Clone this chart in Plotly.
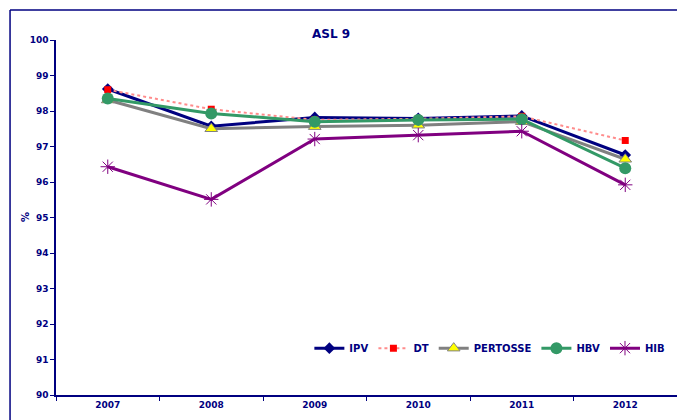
import plotly.graph_objects as go

# Data
years = ["2007", "2008", "2009", "2010", "2011", "2012"]
ipv = [98.62, 97.57, 97.82, 97.79, 97.86, 96.76]
dt = [98.60, 98.05, 97.75, 97.78, 97.85, 97.17]
pertosse = [98.31, 97.50, 97.56, 97.60, 97.70, 96.64]
hbv = [98.35, 97.93, 97.70, 97.75, 97.77, 96.39]
hib = [96.43, 95.51, 97.21, 97.32, 97.43, 95.92]

navy = "#000080"
font_family = "Verdana, DejaVu Sans, sans-serif"

fig = go.Figure()

fig.add_trace(go.Scatter(
    x=years, y=ipv, name="IPV", mode="lines+markers",
    line=dict(color=navy, width=3),
    marker=dict(symbol="diamond", size=9, color=navy)
))
fig.add_trace(go.Scatter(
    x=years, y=dt, name="DT", mode="lines+markers",
    line=dict(color="#FF8C8C", width=2, dash="dot"),
    marker=dict(symbol="square", size=7, color="#FF0000")
))
fig.add_trace(go.Scatter(
    x=years, y=pertosse, name="PERTOSSE", mode="lines+markers",
    line=dict(color="#808080", width=3),
    marker=dict(symbol="triangle-up", size=11, color="#FFFF00",
                line=dict(color="#808080", width=1))
))
fig.add_trace(go.Scatter(
    x=years, y=hbv, name="HBV", mode="lines+markers",
    line=dict(color="#339966", width=3),
    marker=dict(symbol="circle", size=12, color="#339966")
))
fig.add_trace(go.Scatter(
    x=years, y=hib, name="HIB", mode="lines+markers",
    line=dict(color="#800080", width=3),
    marker=dict(symbol="asterisk-open", size=12, color="#800080",
                line=dict(color="#800080", width=1))
))

fig.update_layout(
    width=677, height=420,
    margin=dict(l=56, r=0, t=40, b=25),
    paper_bgcolor="white", plot_bgcolor="white",
    font=dict(family=font_family, color=navy, size=9),
    title=dict(text="ASL 9", x=0.489, xanchor="center",
               yref="container", y=0.919, yanchor="middle",
               font=dict(family=font_family, size=12, color=navy, weight="bold")),
    legend=dict(orientation="h", x=0.408, y=0.132, xanchor="left", yanchor="middle",
                bgcolor="rgba(0,0,0,0)", itemwidth=30, tracegroupgap=0,
                font=dict(family=font_family, size=10, color=navy, weight="bold")),
    showlegend=True,
)

fig.update_xaxes(
    type="category", range=[-0.5, 5.5],
    showline=True, linecolor=navy, linewidth=1.5,
    ticks="outside", tickson="boundaries", ticklen=4, tickcolor=navy,
    showgrid=False, zeroline=False,
    tickfont=dict(family=font_family, size=9, color=navy, weight="bold"),
)
fig.update_yaxes(
    range=[90, 100], dtick=1,
    showline=True, linecolor=navy, linewidth=1.5,
    ticks="outside", ticklen=4, tickcolor=navy,
    showgrid=False, zeroline=False,
    tickfont=dict(family=font_family, size=9, color=navy, weight="bold"),
)

# y-axis label
fig.add_annotation(text="%", xref="paper", yref="paper", x=-0.061, y=0.5,
                   textangle=-90, showarrow=False,
                   font=dict(family=font_family, size=10, color=navy, weight="bold"))

# outer chart frame: only the top and left sides are visible in the page
fig.add_shape(type="line", xref="paper", yref="paper",
              x0=-0.074, x1=1.01, y0=1.0845, y1=1.0845,
              line=dict(color=navy, width=1.5), layer="below")
fig.add_shape(type="line", xref="paper", yref="paper",
              x0=-0.074, x1=-0.074, y0=-0.1, y1=1.0845,
              line=dict(color=navy, width=1.5), layer="below")

# drop the default body margin so the 677x420 figure fills the window exactly
fig.write_html("out.html",
               config={"displayModeBar": False},
               post_script="document.body.style.margin='0';"
                           "document.body.style.overflow='hidden';")
